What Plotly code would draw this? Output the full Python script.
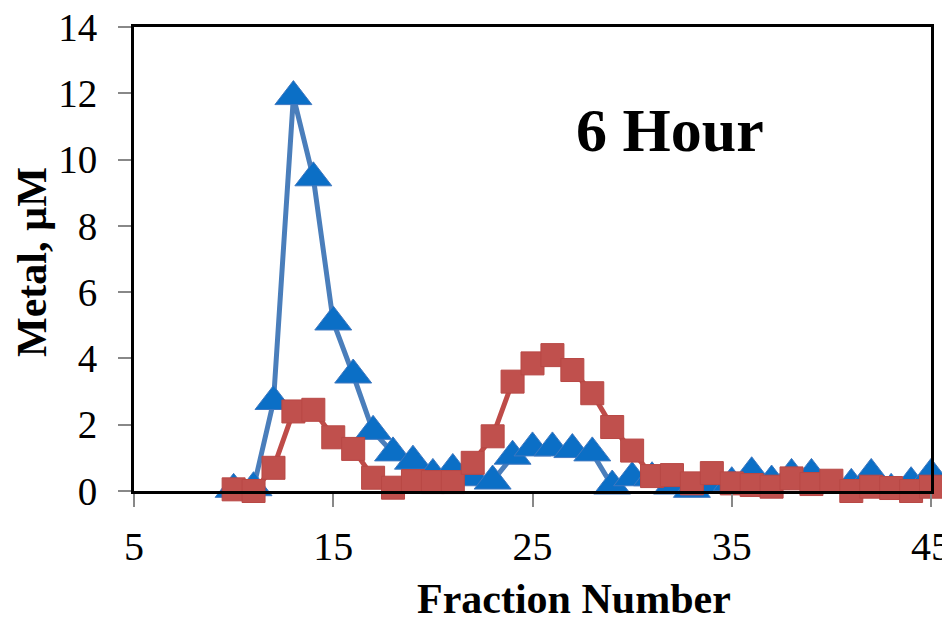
import plotly.graph_objects as go

fractions = list(range(10, 46))
series_a = [0.05, 0.1, 2.7, 11.9, 9.45, 5.1, 3.5, 1.8, 1.15, 0.9, 0.5, 0.65, 0.4, 0.3,
            1.05, 1.3, 1.3, 1.25, 1.15, 0.15, 0.4, 0.4, 0.15, 0.05, 0.2, 0.25, 0.55,
            0.3, 0.5, 0.5, -0.05, 0.2, 0.5, 0.05, 0.25, 0.5]
series_b = [0.05, 0.0, 0.7, 2.4, 2.45, 1.62, 1.27, 0.4, 0.1, 0.3, 0.27, 0.27, 0.85, 1.65,
            3.3, 3.85, 4.1, 3.65, 2.95, 1.93, 1.22, 0.45, 0.48, 0.23, 0.54, 0.23, 0.18,
            0.13, 0.38, 0.21, 0.31, 0.0, 0.13, 0.09, 0.0, 0.13]
x_ticks = [5, 15, 25, 35, 45]
y_ticks = [0, 2, 4, 6, 8, 10, 12, 14]
panel_label = "6 Hour"
x_title = "Fraction Number"
y_title = "Metal, µM"

FONT = "Liberation Serif"

fig = go.Figure()
fig.add_trace(go.Scatter(
    x=fractions, y=series_a, mode="lines+markers",
    line=dict(color="#4a7ebb", width=5),
    marker=dict(symbol="triangle-up", size=32, color="#0b6fc6",
                line=dict(color="#3f78c0", width=1)),
    cliponaxis=False, showlegend=False))
fig.add_trace(go.Scatter(
    x=fractions, y=series_b, mode="lines+markers",
    line=dict(color="#be4b48", width=5),
    marker=dict(symbol="square", size=23, color="#c0504d",
                line=dict(color="#b84845", width=1)),
    cliponaxis=False, showlegend=False))

fig.add_annotation(x=31.9, y=10.9, xref="x", yref="y", text=panel_label,
                   showarrow=False,
                   font=dict(family=FONT, size=62, color="black", weight="bold"))
fig.add_annotation(x=27.1, y=0, xref="x", yref="paper", yshift=-108, text=x_title,
                   showarrow=False, yanchor="middle",
                   font=dict(family=FONT, size=42, color="black", weight="bold"))
fig.add_annotation(x=-0.128, y=0.4935, xref="paper", yref="paper", text=y_title,
                   showarrow=False, textangle=-90, xanchor="center", yanchor="middle",
                   font=dict(family=FONT, size=42, color="black", weight="bold"))

fig.update_layout(
    width=942, height=615,
    margin=dict(l=126, r=19, t=19, b=132),
    paper_bgcolor="white", plot_bgcolor="white",
    font=dict(family=FONT, color="black"),
    xaxis=dict(range=[5, 45], tickvals=x_ticks, ticktext=[str(v) for v in x_ticks],
               showgrid=False, zeroline=False, automargin=False,
               showline=True, linecolor="black", linewidth=3, mirror=True,
               ticks="outside", ticklen=13, tickcolor="#888888", tickwidth=1.5,
               ticklabelstandoff=5, ticklabeloverflow="allow",
               tickfont=dict(family=FONT, size=40)),
    yaxis=dict(range=[0, 14], tickvals=y_ticks, ticktext=[str(v) for v in y_ticks],
               showgrid=False, zeroline=False, automargin=False,
               showline=True, linecolor="black", linewidth=3, mirror=True,
               ticks="outside", ticklen=13, tickcolor="#888888", tickwidth=1.5,
               ticklabelstandoff=13, ticklabeloverflow="allow",
               tickfont=dict(family=FONT, size=39)),
)

fig.write_html("out.html")
